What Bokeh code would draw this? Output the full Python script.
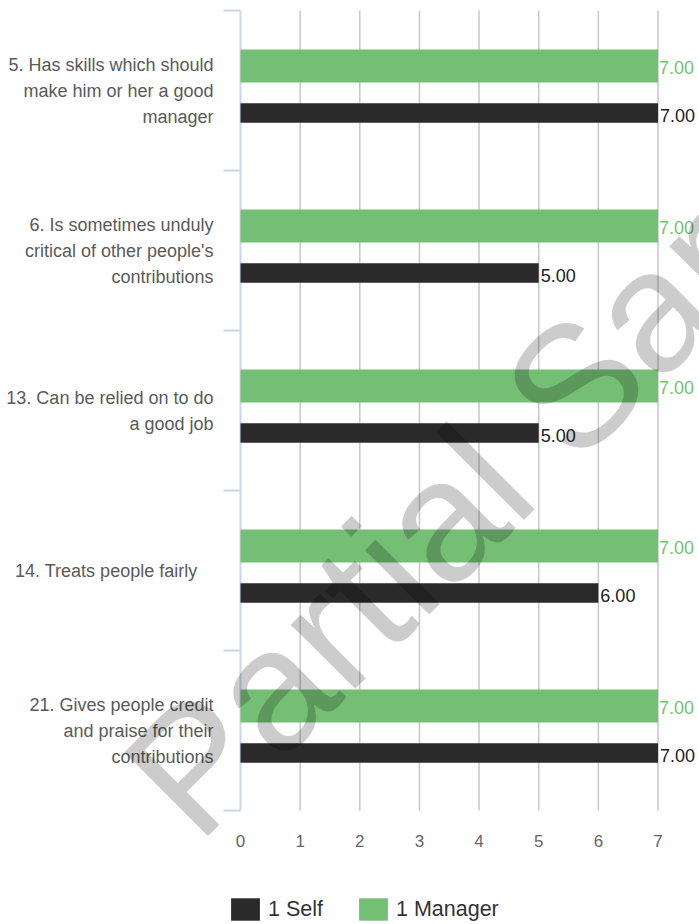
from bokeh.plotting import figure
from bokeh.models import ColumnDataSource, Range1d, Label, Legend, LegendItem
from bokeh.core.properties import value
from bokeh.embed import file_html
from bokeh.resources import INLINE

# Survey items (top to bottom) and scores
categories = [
    "5. Has skills which should\nmake him or her a good\nmanager",
    "6. Is sometimes unduly\ncritical of other people's\ncontributions",
    "13. Can be relied on to do\na good job",
    "14. Treats people fairly",
    "21. Gives people credit\nand praise for their\ncontributions",
]
self_scores = [7, 5, 5, 6, 7]
manager_scores = [7, 7, 7, 7, 7]
x_ticks = [0, 1, 2, 3, 4, 5, 6, 7]
series_names = ["1 Self", "1 Manager"]

GREEN = "#74bf74"
DARK = "#2a2a2a"
AXIS = "#ccd6eb"
FONT = "Liberation Sans"

W, H = 699, 924
PLOT_LEFT, PLOT_RIGHT, PLOT_TOP, BAND = 240, 657.5, 10, 160
n = len(categories)
xmax = x_ticks[-1]
U = (PLOT_RIGHT - PLOT_LEFT) / xmax  # pixels per score unit

# the frame spans the whole canvas; ranges place the plotting area inside it
p = figure(width=W, height=H, output_backend="svg", toolbar_location=None,
           x_range=Range1d(-PLOT_LEFT / U, (W - PLOT_LEFT) / U),
           y_range=Range1d(n - (H - PLOT_TOP) / BAND, n + PLOT_TOP / BAND),
           x_axis_location=None, y_axis_location=None,
           min_border=0)
p.outline_line_color = None
p.grid.visible = False
p.background_fill_color = "white"
p.border_fill_color = "white"

centers = [n - i - 0.5 for i in range(n)]

# vertical grid lines
gx = x_ticks[1:]
p.segment(x0=gx, x1=gx, y0=[0] * len(gx), y1=[n] * len(gx),
          line_color="#c8c8c8", line_width=1.5)

# category axis line and boundary ticks
bounds = list(range(n + 1))
p.segment(x0=[0], x1=[0], y0=[0], y1=[n], line_color=AXIS, line_width=2)
p.segment(x0=[-17 / U] * len(bounds), x1=[0] * len(bounds), y0=bounds, y1=bounds,
          line_color=AXIS, line_width=2)

# value axis tick labels
p.text(x=x_ticks, y=[0] * len(x_ticks), text=[str(t) for t in x_ticks],
       y_offset=30, text_align="center", text_baseline="middle",
       text_font=value(FONT), text_font_size="17px", text_color="#666666")

src_m = ColumnDataSource(dict(y=[c + 0.153 for c in centers], v=manager_scores,
                              t=["%.2f" % v for v in manager_scores]))
src_s = ColumnDataSource(dict(y=[c - 0.14 for c in centers], v=self_scores,
                              t=["%.2f" % v for v in self_scores]))

r_m = p.hbar(y="y", right="v", left=0, height=0.206, source=src_m,
             fill_color=GREEN, line_color=None)
r_s = p.hbar(y="y", right="v", left=0, height=0.122, source=src_s,
             fill_color=DARK, line_color=None)

# value labels at the bar ends
p.text(x="v", y="y", text="t", source=src_m, x_offset=1, y_offset=1,
       text_baseline="middle", text_align="left", text_font=value(FONT),
       text_font_size="18px", text_color=GREEN)
p.text(x="v", y="y", text="t", source=src_s, x_offset=2, y_offset=3,
       text_baseline="middle", text_align="left", text_font=value(FONT),
       text_font_size="18px", text_color="#222222")

# category labels, right-aligned beside the axis
label_dx = [-27, -27, -27, -43, -27]
p.text(x=[0] * n, y=centers, text=categories, x_offset=label_dx,
       text_align="right", text_baseline="middle", text_font=value(FONT),
       text_font_size="18px", text_color="#5a5a5a", text_line_height=1.3)

legend = Legend(items=[LegendItem(label=series_names[0], renderers=[r_s]),
                       LegendItem(label=series_names[1], renderers=[r_m])],
                orientation="horizontal", location=(227, 1),
                glyph_width=36, glyph_height=28, label_standoff=5, spacing=32,
                padding=0, margin=0, border_line_color=None,
                background_fill_alpha=0, label_text_font=FONT,
                label_text_font_size="21.5px", label_text_color="#333333",
                label_height=28)
p.add_layout(legend, "center")

# watermark
p.add_layout(Label(x=155, y=H - 803, x_units="screen", y_units="screen",
                   text="Partial Sample", angle=45, angle_units="deg",
                   text_align="left", text_baseline="alphabetic",
                   text_font=FONT, text_font_size="172px",
                   text_color="black", text_alpha=0.2))

open("out.html", "w").write(file_html(p, INLINE))
